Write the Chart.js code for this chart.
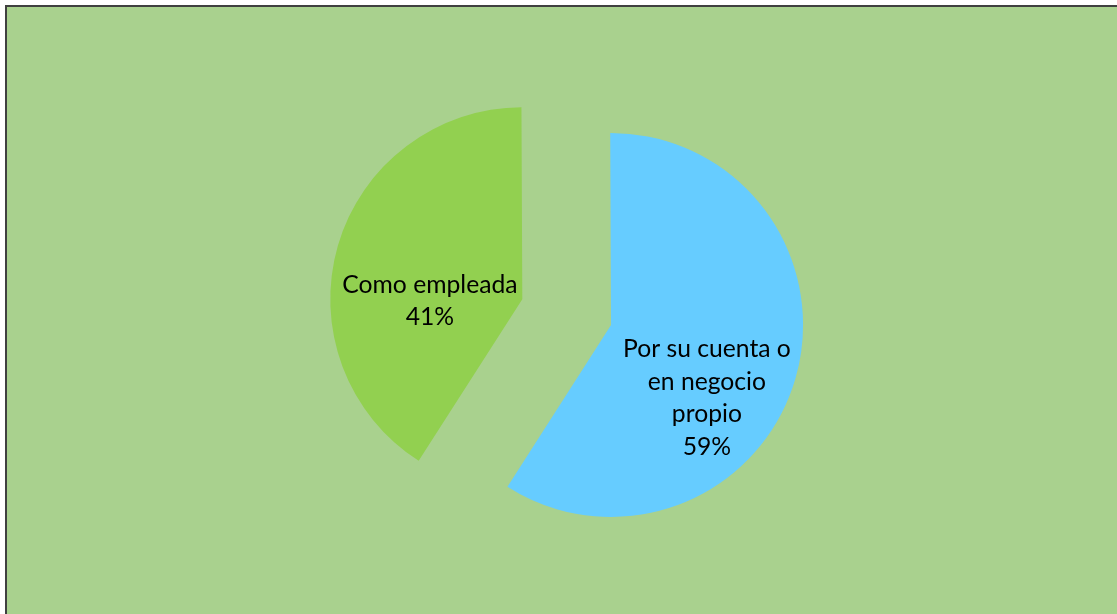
<!DOCTYPE html>
<html>
<head>
<meta charset="utf-8">
<script src="https://cdn.jsdelivr.net/npm/chart.js@4.4.1/dist/chart.umd.min.js"></script>
<style>
  html, body { margin: 0; padding: 0; background: #ffffff; overflow: hidden; }
  #frame { position: absolute; left: 5px; top: 5px; width: 1200px; height: 700px; background: #a9d18e; border: 2px solid #404040; }
  #wrap { position: absolute; left: 0; top: 0; width: 1117px; height: 614px; }
</style>
</head>
<body>
<div id="frame"></div>
<div id="wrap"><canvas id="pie"></canvas></div>
<script>
const categories = [
  ['Por su cuenta o', 'en negocio', 'propio'],
  ['Como empleada'],
];
const shares = [59, 41];
const sliceColors = ['#66ccff', '#92d050'];
// explosion per slice (Chart.js divides by 4 and also grows the radius)
const sliceOffsets = [117.2, 252.4];
// where each label block sits, relative to the pie centre
const labelNudges = [[124, 81], [-153, -16]];

const sliceLabels = {
  id: 'sliceLabels',
  afterDatasetsDraw(chart) {
    const { ctx } = chart;
    const meta = chart.getDatasetMeta(0);
    const total = shares.reduce((a, b) => a + b, 0);
    ctx.save();
    ctx.fillStyle = '#000000';
    ctx.font = '24.7px Lato';
    ctx.textAlign = 'center';
    ctx.textBaseline = 'middle';
    const lineH = 32.5;
    meta.data.forEach((arc, i) => {
      const lines = [...categories[i], Math.round(shares[i] / total * 100) + '%'];
      const cx = arc.x + labelNudges[i][0];
      const cy = arc.y + labelNudges[i][1];
      const top = cy - (lines.length - 1) * lineH / 2;
      lines.forEach((t, k) => ctx.fillText(t, cx, top + k * lineH));
    });
    ctx.restore();
  },
};

new Chart(document.getElementById('pie'), {
  type: 'pie',
  data: {
    labels: categories.map((c) => c.join(' ')),
    datasets: [{
      data: shares,
      backgroundColor: sliceColors,
      borderWidth: 0,
      offset: sliceOffsets,
      // slight negative spacing undoes most of the angle trim on offset arcs
      spacing: -2.93,
      hoverOffset: 0,
    }],
  },
  options: {
    responsive: true,
    maintainAspectRatio: false,
    animation: false,
    radius: 164.2,
    layout: { padding: { left: 60, right: 11.2, top: 30, bottom: 10.4 } },
    plugins: {
      legend: { display: false },
      tooltip: { enabled: false },
    },
  },
  plugins: [sliceLabels],
});
</script>
</body>
</html>
